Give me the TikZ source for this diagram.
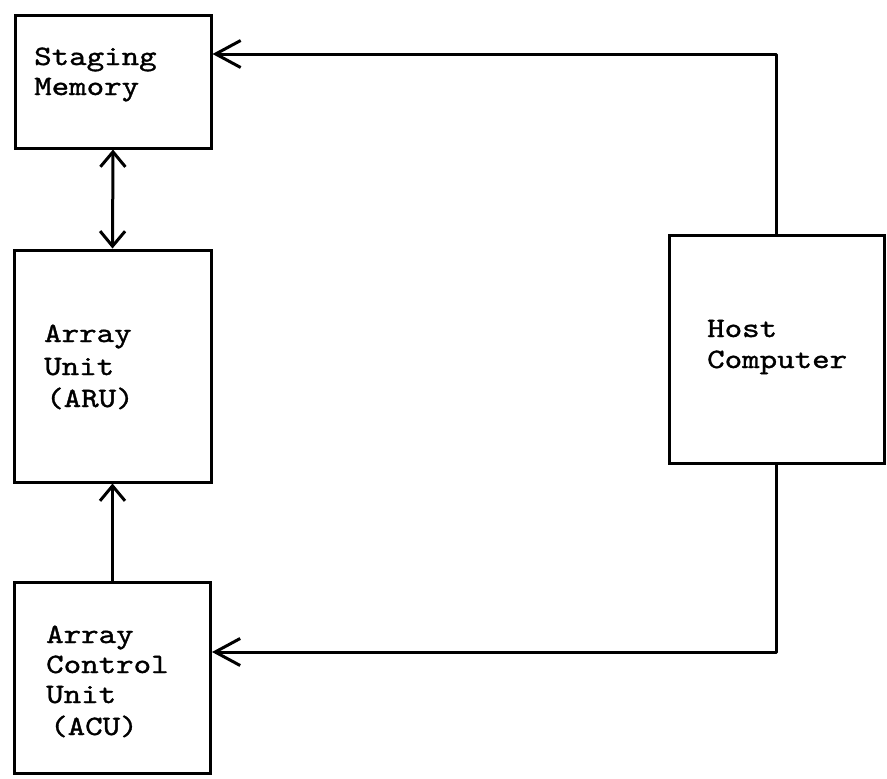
\documentclass[tikz,border=0pt]{standalone}
\usepackage{fontspec}
\newfontfamily\twfont{lmmono10-regular}[Extension=.otf, FakeStretch=1.19, FakeBold=1.2]
\usetikzlibrary{arrows.meta}
\tikzset{
  box/.style={draw, line width=3pt, inner sep=0pt, rectangle},
  lbl/.style={font=\twfont\fontsize{28}{31}\selectfont, anchor=base west, inner sep=0pt},
  conn/.style={line width=3pt, line join=round},
  vtip/.tip={Straight Barb[length=15pt,width=25pt,line width=3pt]},
  htip/.tip={Straight Barb[length=25pt,width=27pt,line width=3pt]}
}
\begin{document}
\begin{tikzpicture}[x=1pt,y=-1pt]
\useasboundingbox (0,0) rectangle (887,779);
% boxes
\node[box, minimum width=196pt, minimum height=133pt] (sm) at (113,81.5) {};
\node[box, minimum width=197pt, minimum height=232pt] (aru) at (112.5,366) {};
\node[box, minimum width=196pt, minimum height=191pt] (acu) at (112.5,677.5) {};
\node[box, minimum width=215pt, minimum height=228pt] (host) at (776.5,349) {};
% labels
\node[lbl] (sm1) at (34,65) {Staging};
\node[lbl] (sm2) at (34,95) {Memory};
\node[lbl] (aru1) at (44,342) {Array};
\node[lbl] (aru2) at (44,375) {Unit};
\node[lbl] (aru3) at (46,407) {(ARU)};
\node[lbl] (acu1) at (46,643) {Array};
\node[lbl] (acu2) at (46,673) {Control};
\node[lbl] (acu3) at (46,703) {Unit};
\node[lbl] (acu4) at (50,735) {(ACU)};
\node[lbl] (host1) at (707,337) {Host};
\node[lbl] (host2) at (707,368) {Computer};
% connectors
\coordinate (c1) at (776.5,54);
\coordinate (c2) at (776.5,652);
\draw[conn, vtip-vtip] (sm.south) -- (aru.north);
\draw[conn, -vtip] (acu.north) -- (aru.south);
\draw[conn, -htip] (host.north) -- (c1) -- (sm.east |- c1);
\draw[conn, -htip] (host.south) -- (c2) -- (acu.east |- c2);
\end{tikzpicture}
\end{document}
